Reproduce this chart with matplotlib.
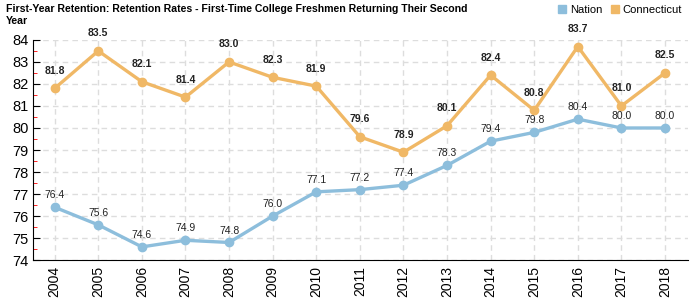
import matplotlib
matplotlib.use("Agg")
import matplotlib.pyplot as plt
from matplotlib.ticker import MultipleLocator

years = [2004, 2005, 2006, 2007, 2008, 2009, 2010, 2011, 2012, 2013, 2014, 2015, 2016, 2017, 2018]
nation = [76.4, 75.6, 74.6, 74.9, 74.8, 76.0, 77.1, 77.2, 77.4, 78.3, 79.4, 79.8, 80.4, 80.0, 80.0]
connecticut = [81.8, 83.5, 82.1, 81.4, 83.0, 82.3, 81.9, 79.6, 78.9, 80.1, 82.4, 80.8, 83.7, 81.0, 82.5]

NATION_COLOR = "#8dbedc"
CT_COLOR = "#f0b866"

plt.rcParams["font.family"] = ["Liberation Sans", "DejaVu Sans"]

fig = plt.figure(figsize=(7, 3), dpi=100)
ax = fig.add_axes([0.047, 0.133, 0.936, 0.734])

ax.plot(years, nation, color=NATION_COLOR, lw=2.4, marker="o", ms=6, label="Nation", zorder=3)
ax.plot(years, connecticut, color=CT_COLOR, lw=2.4, marker="o", ms=6, label="Connecticut", zorder=3)

for x, y in zip(years, nation):
    ax.annotate(f"{y:.1f}", (x, y), xytext=(0, 5), textcoords="offset points",
                ha="center", va="bottom", fontsize=7.5, color="#222222")
for x, y in zip(years, connecticut):
    ax.annotate(f"{y:.1f}", (x, y), xytext=(0, 9), textcoords="offset points",
                ha="center", va="bottom", fontsize=7.5, fontweight="bold", color="#222222")

ax.set_xlim(2003.5, 2018.53)
ax.set_ylim(74, 84)
ax.set_xticks(years)
ax.set_xticklabels([str(y) for y in years], rotation=90, fontsize=10)
ax.yaxis.set_major_locator(MultipleLocator(1))
ax.yaxis.set_minor_locator(MultipleLocator(0.5))
ax.tick_params(axis="y", which="major", labelsize=10.5, length=5, direction="in", pad=3)
ax.tick_params(axis="y", which="minor", length=3, color="red", direction="in")
ax.tick_params(axis="x", length=0, pad=4)

ax.grid(True, which="major", color="#dddddd", linestyle="--", linewidth=1, dashes=(4, 3))
ax.set_axisbelow(True)
for side in ["top", "right"]:
    ax.spines[side].set_visible(False)

fig.text(0.008, 0.985, "First-Year Retention: Retention Rates - First-Time College Freshmen Returning Their Second\nYear",
         ha="left", va="top", fontsize=7.6, fontweight="bold", linespacing=1.2)

ax.legend(loc="upper right", bbox_to_anchor=(1.0, 1.19), ncol=2, frameon=False,
          fontsize=8, handlelength=0.7, handleheight=0.7, handletextpad=0.3, columnspacing=0.8,
          borderaxespad=0.2)
leg = ax.get_legend()
for h in leg.legend_handles:
    h.set_linestyle("none")
    h.set_marker("s")
    h.set_markersize(6)

fig.savefig("out.png", dpi=100)
